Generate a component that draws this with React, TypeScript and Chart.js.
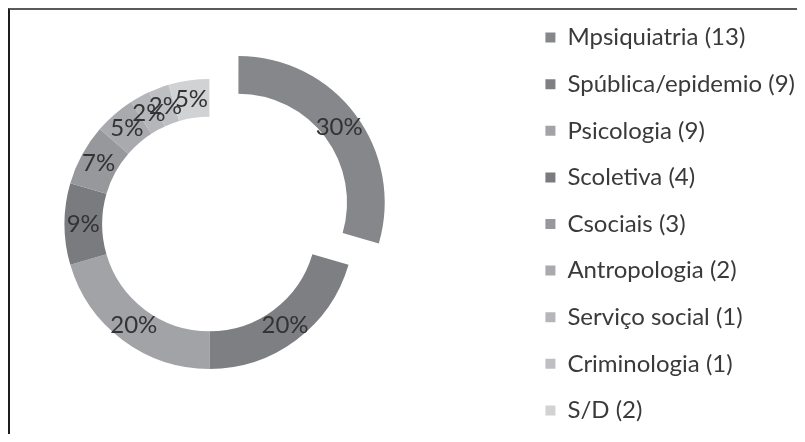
import { useEffect, useRef } from 'react';
import { Chart, registerables } from 'chart.js';

Chart.register(...registerables);

// ---- data ----
const categories = [
  'Mpsiquiatria',
  'Spública/epidemio',
  'Psicologia',
  'Scoletiva',
  'Csociais',
  'Antropologia',
  'Serviço social',
  'Criminologia',
  'S/D',
];
const counts = [13, 9, 9, 4, 3, 2, 1, 1, 2];
const explodedIndex = 0;

// ---- styles ----
const sliceColors = [
  '#86878b',
  '#7e7f83',
  '#a2a3a7',
  '#7a7b7f',
  '#97989c',
  '#a9aaae',
  '#b5b6ba',
  '#bebfc3',
  '#d1d2d4',
];
const FONT_FAMILY = 'Lato';
const LEGEND_FONT = 24;
const PCT_FONT = 24;
const BOX = 10;
const LEGEND_PAD = 22.6;
const OUTER_R = 145;
const EXPLODE = 144; // chart.js translates an offset slice by offset / 4

// layout targets (page pixels)
const CONTENT_X = 10;
const CONTENT_Y = 10;
const CENTER_X = 210;
const CENTER_Y = 224;
const LEGEND_BOX_X = 547;
const VISIBLE_W = 795;

const total = counts.reduce((a, b) => a + b, 0);
const legendTexts = categories.map((c, i) => `${c} (${counts[i]})`);

// canvas is shifted so that the chart-area centre lands on CENTER_X / CENTER_Y
const SHIFT_X = 2 * (CONTENT_X + (LEGEND_BOX_X - CONTENT_X - LEGEND_PAD) / 2 - CENTER_X);
const SHIFT_Y = 14;
const CANVAS_W = VISIBLE_W + SHIFT_X;
const CANVAS_H = 2 * (CENTER_Y - CONTENT_Y + SHIFT_Y);

const pctPlugin = {
  id: 'pctLabels',
  afterDatasetsDraw(chart: any) {
    const ctx = chart.ctx;
    const meta = chart.getDatasetMeta(0);
    ctx.save();
    ctx.font = `${PCT_FONT}px ${FONT_FAMILY}`;
    ctx.fillStyle = '#333333';
    ctx.textAlign = 'center';
    ctx.textBaseline = 'middle';
    meta.data.forEach((arc: any, i: number) => {
      const { x, y, startAngle, endAngle, innerRadius, outerRadius } = arc.getProps(
        ['x', 'y', 'startAngle', 'endAngle', 'innerRadius', 'outerRadius'],
        true
      );
      const off = (arc.options.offset || 0) / 4;
      const mid = (startAngle + endAngle) / 2;
      const r = (innerRadius + outerRadius) / 2 + off;
      const pct = Math.round((counts[i] / total) * 100) + '%';
      ctx.fillText(pct, x + Math.cos(mid) * r, y + Math.sin(mid) * r);
    });
    ctx.restore();
  },
};

export default function App() {
  const ref = useRef<HTMLCanvasElement | null>(null);

  useEffect(() => {
    if (!ref.current) return;
    const m = document.createElement('canvas').getContext('2d')!;
    m.font = `${LEGEND_FONT}px ${FONT_FAMILY}`;
    const maxText = Math.max(...legendTexts.map((t) => m.measureText(t).width));
    const legendLeft = LEGEND_BOX_X - CONTENT_X + SHIFT_X - LEGEND_PAD;
    const legendWidth = LEGEND_PAD + BOX + LEGEND_FONT / 2 + maxText + 10;
    const padRight = Math.max(CANVAS_W - legendLeft - legendWidth, 0);

    const chart = new Chart(ref.current, {
      type: 'doughnut',
      data: {
        labels: legendTexts,
        datasets: [
          {
            data: counts,
            backgroundColor: sliceColors,
            borderWidth: 0,
            offset: counts.map((_, i) => (i === explodedIndex ? EXPLODE : 0)),
          },
        ],
      },
      options: {
        responsive: false,
        animation: false,
        radius: OUTER_R,
        cutout: '74%',
        layout: {
          padding: { left: 0, right: padRight, top: 0, bottom: 0 },
        },
        plugins: {
          tooltip: { enabled: false },
          legend: {
            position: 'right',
            align: 'center',
            labels: {
              boxWidth: BOX,
              boxHeight: BOX,
              padding: LEGEND_PAD,
              color: '#3a3a3a',
              font: { family: FONT_FAMILY, size: LEGEND_FONT },
            },
          },
        },
      } as any,
      plugins: [pctPlugin],
    });
    return () => chart.destroy();
  }, []);

  return (
    <div
      style={{
        width: 797,
        height: 426,
        boxSizing: 'border-box',
        borderTop: '2px solid #5a5a5a',
        borderLeft: '2px solid #1e1e1e',
        overflow: 'hidden',
        background: '#ffffff',
      }}
    >
      <canvas
        ref={ref}
        width={CANVAS_W}
        height={CANVAS_H}
        style={{ display: 'block', marginLeft: -SHIFT_X, marginTop: -SHIFT_Y }}
      />
    </div>
  );
}
